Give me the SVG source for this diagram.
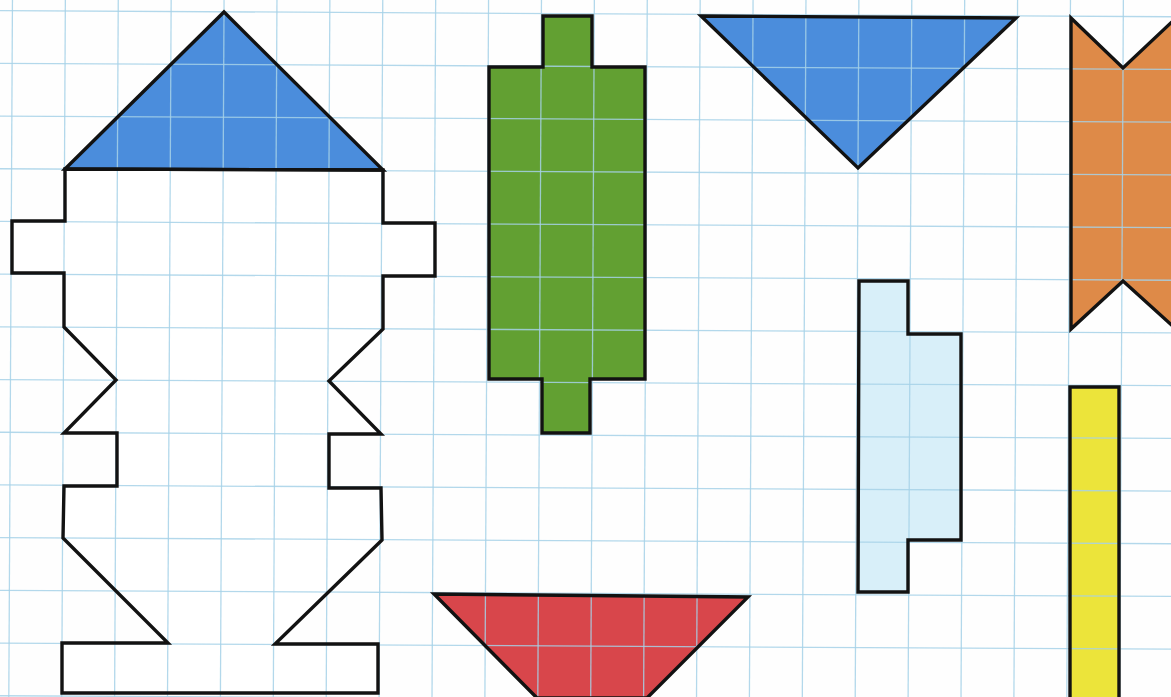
<svg xmlns="http://www.w3.org/2000/svg" xmlns:xlink="http://www.w3.org/1999/xlink" width="1171" height="697" viewBox="0 0 1171 697">
  <style>
    .grid line { stroke: #a6d2e8; stroke-width: 1.3; opacity: 0.85; }
    .outline use { fill: none; stroke: #121212; stroke-width: 3.4; stroke-linejoin: miter; }
  </style>
  <defs>
    <polygon id="roof" points="65,169 224,12 383,170"/>
    <polygon id="house" points="65,169 383,170 383,223 435,223 435,276 383,276 383,329 329,381 381,434 329,434 329,488 381,488 382,540 275,644 378,644 378,693 62,693 62,643 168,643 63,538 64,486 117,486 117,433 64,433 116,380 64,327 64,273 12,273 12,221 65,221"/>
    <polygon id="green" points="543,16 592,16 592,67 645,67 645,379 590,379 590,433 542,433 542,379 489,379 489,67 543,67"/>
    <polygon id="tri2" points="701,16 1016,18 858,168"/>
    <polygon id="orange" points="1071,18 1123,68 1176,18 1176,329 1123,281 1071,329"/>
    <polygon id="lightblue" points="859,281 908,281 908,334 961,334 961,540 908,540 908,592 858,592"/>
    <polygon id="yellow" points="1070,387 1119,387 1119,705 1070,705"/>
    <polygon id="red" points="434,594 748,597 647,698 537,698"/>
  </defs>
  <rect x="0" y="0" width="1171" height="697" fill="#fefefe"/>

  <g id="fills">
    <use id="house-fill" xlink:href="#house" fill="#ffffff"/>
    <use id="roof-fill" xlink:href="#roof" fill="#4b8ddc"/>
    <use id="green-fill" xlink:href="#green" fill="#62a032"/>
    <use id="tri2-fill" xlink:href="#tri2" fill="#4b8ddc"/>
    <use id="orange-fill" xlink:href="#orange" fill="#de8a48"/>
    <use id="lightblue-fill" xlink:href="#lightblue" fill="#d8eff9"/>
    <use id="yellow-fill" xlink:href="#yellow" fill="#ece43a"/>
    <use id="red-fill" xlink:href="#red" fill="#d8464b"/>
  </g>

  <g class="grid" transform="translate(12.4 10.7) rotate(0.3)">
    <line x1="-52.9" y1="-80" x2="-52.9" y2="760"/>
    <line x1="0" y1="-80" x2="0" y2="760"/>
    <line x1="52.9" y1="-80" x2="52.9" y2="760"/>
    <line x1="105.8" y1="-80" x2="105.8" y2="760"/>
    <line x1="158.7" y1="-80" x2="158.7" y2="760"/>
    <line x1="211.6" y1="-80" x2="211.6" y2="760"/>
    <line x1="264.5" y1="-80" x2="264.5" y2="760"/>
    <line x1="317.4" y1="-80" x2="317.4" y2="760"/>
    <line x1="370.3" y1="-80" x2="370.3" y2="760"/>
    <line x1="423.2" y1="-80" x2="423.2" y2="760"/>
    <line x1="476.1" y1="-80" x2="476.1" y2="760"/>
    <line x1="529" y1="-80" x2="529" y2="760"/>
    <line x1="581.9" y1="-80" x2="581.9" y2="760"/>
    <line x1="634.8" y1="-80" x2="634.8" y2="760"/>
    <line x1="687.7" y1="-80" x2="687.7" y2="760"/>
    <line x1="740.6" y1="-80" x2="740.6" y2="760"/>
    <line x1="793.5" y1="-80" x2="793.5" y2="760"/>
    <line x1="846.4" y1="-80" x2="846.4" y2="760"/>
    <line x1="899.3" y1="-80" x2="899.3" y2="760"/>
    <line x1="952.2" y1="-80" x2="952.2" y2="760"/>
    <line x1="1005.1" y1="-80" x2="1005.1" y2="760"/>
    <line x1="1058" y1="-80" x2="1058" y2="760"/>
    <line x1="1110.9" y1="-80" x2="1110.9" y2="760"/>
    <line x1="1163.8" y1="-80" x2="1163.8" y2="760"/>
    <line x1="-80" y1="0" x2="1240" y2="0"/>
    <line x1="-80" y1="52.7" x2="1240" y2="52.7"/>
    <line x1="-80" y1="105.4" x2="1240" y2="105.4"/>
    <line x1="-80" y1="158.1" x2="1240" y2="158.1"/>
    <line x1="-80" y1="210.8" x2="1240" y2="210.8"/>
    <line x1="-80" y1="263.5" x2="1240" y2="263.5"/>
    <line x1="-80" y1="316.2" x2="1240" y2="316.2"/>
    <line x1="-80" y1="368.9" x2="1240" y2="368.9"/>
    <line x1="-80" y1="421.6" x2="1240" y2="421.6"/>
    <line x1="-80" y1="474.3" x2="1240" y2="474.3"/>
    <line x1="-80" y1="527" x2="1240" y2="527"/>
    <line x1="-80" y1="579.7" x2="1240" y2="579.7"/>
    <line x1="-80" y1="632.4" x2="1240" y2="632.4"/>
    <line x1="-80" y1="685.1" x2="1240" y2="685.1"/>
  </g>

  <g class="outline">
    <use id="house-outline" xlink:href="#house"/>
    <use id="roof-outline" xlink:href="#roof"/>
    <use id="green-outline" xlink:href="#green"/>
    <use id="tri2-outline" xlink:href="#tri2"/>
    <use id="orange-outline" xlink:href="#orange"/>
    <use id="lightblue-outline" xlink:href="#lightblue"/>
    <use id="yellow-outline" xlink:href="#yellow"/>
    <use id="red-outline" xlink:href="#red"/>
  </g>
</svg>
